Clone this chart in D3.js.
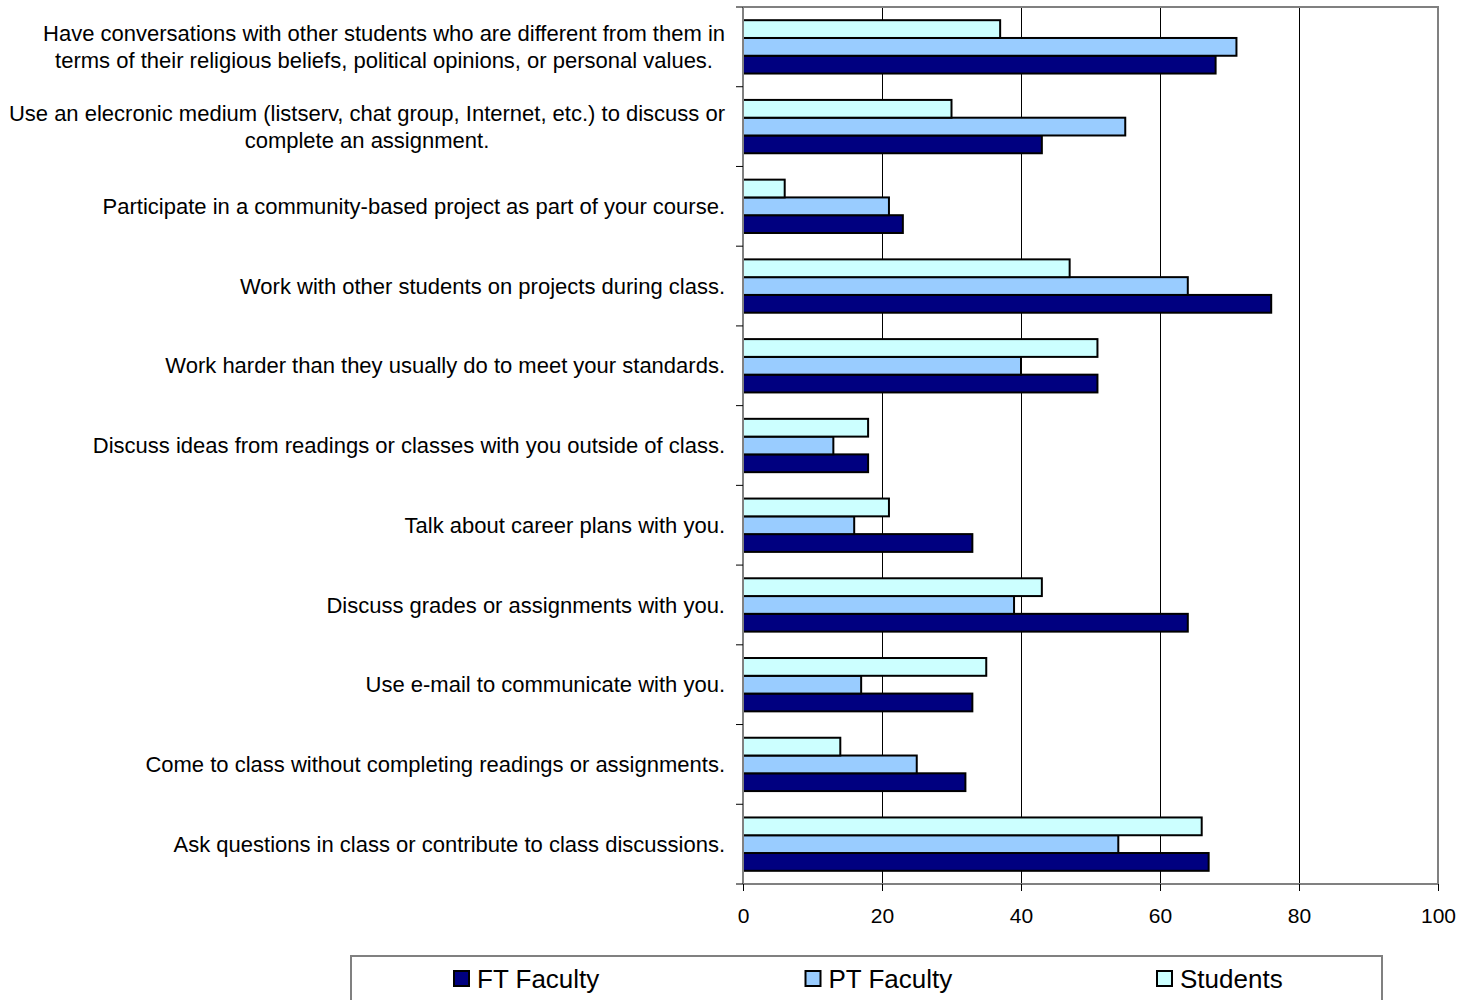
<!DOCTYPE html>
<html>
<head>
<meta charset="utf-8">
<script src="https://cdn.jsdelivr.net/npm/d3@7"></script>
<style>
  html, body { margin: 0; padding: 0; background: #fff; }
  svg { display: block; font-family: Arial, "Liberation Sans", sans-serif; }
</style>
</head>
<body>
<svg id="chart" width="1462" height="1000"></svg>
<script>
// Categories, top to bottom (each entry is an array of wrapped lines)
const categories = [
  ["Have conversations with other students who are different from them in", "terms of their religious beliefs, political opinions, or personal values."],
  ["Use an elecronic medium (listserv, chat group, Internet, etc.) to discuss or", "complete an assignment."],
  ["Participate in a community-based project as part of your course."],
  ["Work with other students on projects during class."],
  ["Work harder than they usually do to meet your standards."],
  ["Discuss ideas from readings or classes with you outside of class."],
  ["Talk about career plans with you."],
  ["Discuss grades or assignments with you."],
  ["Use e-mail to communicate with you."],
  ["Come to class without completing readings or assignments."],
  ["Ask questions in class or contribute to class discussions."]
];
const seriesNames = ["FT Faculty", "PT Faculty", "Students"];
const ftFaculty = [68, 43, 23, 76, 51, 18, 33, 64, 33, 32, 67];
const ptFaculty = [71, 55, 21, 64, 40, 13, 16, 39, 17, 25, 54];
const students  = [37, 30, 6, 47, 51, 18, 21, 43, 35, 14, 66];
const seriesColors = ["#000080", "#99CCFF", "#CCFFFF"];
const xTicks = [0, 20, 40, 60, 80, 100];

const seriesValues = [ftFaculty, ptFaculty, students];
const svg = d3.select("#chart");

const plot = { left: 743, right: 1438, top: 7, bottom: 884 };
const x = d3.scaleLinear().domain([0, 100]).range([plot.left, plot.right]);
const catIdx = d3.range(categories.length);
const yOuter = d3.scaleBand().domain(catIdx).range([plot.top, plot.bottom]).paddingInner(0).paddingOuter(0);
const yGroup = d3.scaleBand().domain(catIdx).range([plot.top, plot.bottom]).paddingInner(0.331).paddingOuter(0.1655);
// within group: Students top, PT middle, FT bottom
const yInner = d3.scaleBand().domain([2, 1, 0]).range([0, yGroup.bandwidth()]);

// Gridlines
svg.append("g").selectAll("line").data(xTicks.filter(t => t > 0 && t < 100)).join("line")
  .attr("x1", d => x(d)).attr("x2", d => x(d))
  .attr("y1", plot.top).attr("y2", plot.bottom)
  .attr("stroke", "#000").attr("stroke-width", 1).attr("shape-rendering", "crispEdges");

// Plot border top & right
svg.append("path")
  .attr("d", `M${plot.left},${plot.top}H${plot.right}V${plot.bottom}`)
  .attr("fill", "none").attr("stroke", "#808080").attr("stroke-width", 2);

// Bars
const flat = [];
catIdx.forEach(i => seriesValues.forEach((arr, s) => flat.push({ i, s, v: arr[i] })));
svg.append("g").selectAll("rect").data(flat).join("rect")
  .attr("x", x(0))
  .attr("y", d => yGroup(d.i) + yInner(d.s))
  .attr("width", d => x(d.v) - x(0))
  .attr("height", yInner.bandwidth())
  .attr("fill", d => seriesColors[d.s])
  .attr("stroke", "#000").attr("stroke-width", 2);

// X axis
const xAxis = d3.axisBottom(x).tickValues(xTicks).tickSize(7).tickPadding(17);
const gx = svg.append("g").attr("transform", `translate(0,${plot.bottom})`).call(xAxis);
gx.select(".domain").attr("stroke", "#808080").attr("stroke-width", 2).attr("d", `M${plot.left},0H${plot.right}`);
gx.selectAll(".tick line").attr("stroke", "#000").attr("stroke-width", 1);
gx.selectAll(".tick text").attr("font-size", 21).attr("fill", "#000").attr("font-family", "Arial, 'Liberation Sans', sans-serif");

// Y axis (category boundary ticks)
const boundaries = catIdx.map(i => yOuter(i)).concat([plot.bottom]);
const gy = svg.append("g");
gy.append("line").attr("x1", plot.left).attr("x2", plot.left).attr("y1", plot.top).attr("y2", plot.bottom)
  .attr("stroke", "#808080").attr("stroke-width", 2);
gy.selectAll("line.tk").data(boundaries).join("line").attr("class", "tk")
  .attr("x1", plot.left - 7).attr("x2", plot.left).attr("y1", d => d).attr("y2", d => d)
  .attr("stroke", "#000").attr("stroke-width", 1);

// Category labels: block right-aligned, lines centred within block
const labelRight = 725;
const lineH = 27;
categories.forEach((lines, i) => {
  const cy = yOuter(i) + yOuter.bandwidth() / 2;
  const g = svg.append("g");
  const texts = lines.map((ln, k) => g.append("text")
    .attr("x", 0)
    .attr("y", cy + (k - (lines.length - 1) / 2) * lineH)
    .attr("dy", "0.35em")
    .attr("text-anchor", "middle")
    .attr("font-size", 22)
    .attr("fill", "#000")
    .text(ln));
  const w = d3.max(texts, t => t.node().getComputedTextLength());
  g.attr("transform", `translate(${labelRight - w / 2},0)`);
});

// Legend
const legend = svg.append("g");
legend.append("rect").attr("x", 351).attr("y", 956).attr("width", 1031).attr("height", 60)
  .attr("fill", "#fff").attr("stroke", "#808080").attr("stroke-width", 2);
const legendX = d3.scalePoint().domain([0, 1, 2]).range([453, 1156]);
seriesNames.forEach((name, s) => {
  const lx = legendX(s);
  legend.append("rect").attr("x", lx + 1).attr("y", 971).attr("width", 15).attr("height", 15)
    .attr("fill", seriesColors[s]).attr("stroke", "#000").attr("stroke-width", 2);
  legend.append("text").attr("x", lx + 24).attr("y", 988)
    .attr("font-size", 26).attr("fill", "#000").text(name);
});
</script>
</body>
</html>
